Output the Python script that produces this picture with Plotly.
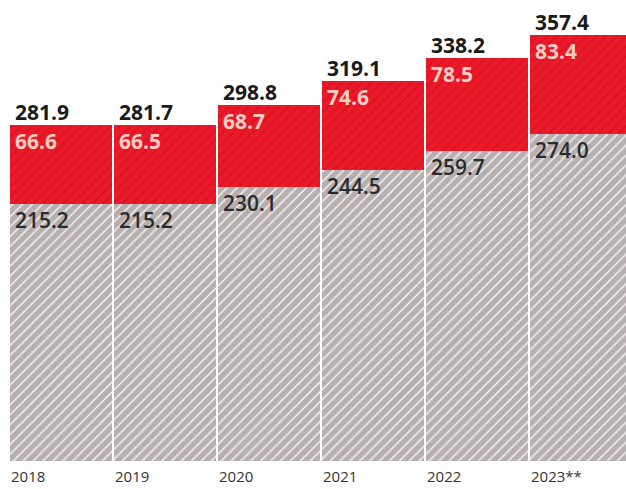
import plotly.graph_objects as go

years = ["2018", "2019", "2020", "2021", "2022", "2023**"]
base_vals = [215.2, 215.2, 230.1, 244.5, 259.7, 274.0]
top_vals = [66.6, 66.5, 68.7, 74.6, 78.5, 83.4]
totals = [281.9, 281.7, 298.8, 319.1, 338.2, 357.4]

xs = list(range(len(years)))

fig = go.Figure()
fig.add_trace(go.Bar(
    x=xs, y=base_vals,
    marker=dict(color="#b7afaf", line=dict(width=0),
                pattern=dict(shape="/", bgcolor="#b7afaf", fgcolor="#f4f2f2",
                             size=7, solidity=0.22, fillmode="replace")),
    hoverinfo="skip",
))
fig.add_trace(go.Bar(
    x=xs, y=top_vals,
    marker=dict(color="#ea1a2a", line=dict(width=0),
                pattern=dict(shape="/", bgcolor="#ea1a2a", fgcolor="#d8121f",
                             size=7, solidity=0.22, fillmode="replace")),
    hoverinfo="skip",
))

ann = []
font_main = "Open Sans"
for i, (y, b, t, tot) in enumerate(zip(years, base_vals, top_vals, totals)):
    left = i - 0.49
    ann.append(dict(x=left, y=b + t, xref="x", yref="y", text=f"{tot:.1f}",
                    xanchor="left", yanchor="bottom", xshift=3, yshift=-3,
                    showarrow=False,
                    font=dict(family=font_main, size=21, color="#1a1a1a", weight=700)))
    ann.append(dict(x=left, y=b + t, xref="x", yref="y", text=f"{t:.1f}",
                    xanchor="left", yanchor="top", xshift=3, yshift=0,
                    showarrow=False,
                    font=dict(family=font_main, size=21, color="#f7cdc2", weight=700)))
    ann.append(dict(x=left, y=b, xref="x", yref="y", text=f"{b:.1f}",
                    xanchor="left", yanchor="top", xshift=3, yshift=0,
                    showarrow=False,
                    font=dict(family=font_main, size=21, color="#2b2b2b", weight=600)))
    ann.append(dict(x=left, y=0, xref="x", yref="y", text=y,
                    xanchor="left", yanchor="top", xshift=-1, yshift=-3,
                    showarrow=False,
                    font=dict(family=font_main, size=15, color="#333333")))

fig.update_layout(
    barmode="stack",
    bargap=0.02,
    width=626, height=489,
    margin=dict(l=9, r=0, t=0, b=28),
    paper_bgcolor="white", plot_bgcolor="white",
    showlegend=False,
    annotations=ann,
    xaxis=dict(range=[-0.5, -0.5 + 617 / 104], showticklabels=False, showgrid=False,
               zeroline=False, showline=False, fixedrange=True),
    yaxis=dict(range=[0, 386.7], showticklabels=False, showgrid=False,
               zeroline=False, showline=False, fixedrange=True),
)

fig.write_html("out.html", config={"displayModeBar": False},
               post_script="document.body.style.margin='0';document.body.style.overflow='hidden';")
